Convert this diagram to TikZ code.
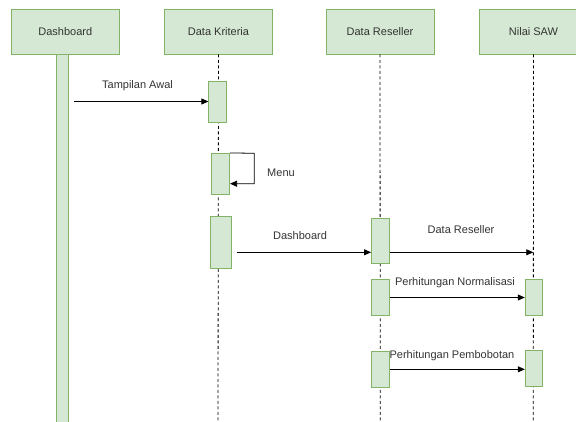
\documentclass[tikz,border=0pt]{standalone}
\usepackage{fontspec}
\setmainfont{Liberation Sans}
\usetikzlibrary{arrows.meta,calc}
\definecolor{boxfill}{HTML}{D5E8D4}
\definecolor{boxline}{HTML}{82B366}
\definecolor{txt}{HTML}{333333}
\tikzset{
  head/.style={draw=boxline, fill=boxfill, line width=0.9pt, minimum width=108pt, minimum height=45pt, inner sep=0pt, text=txt, font=\fontsize{11}{13}\selectfont},
  act/.style={draw=boxline, fill=boxfill, line width=0.9pt, minimum width=18pt, inner sep=0pt},
  life/.style={line width=0.8pt, dash pattern=on 3pt off 2.5pt},
  msg/.style={line width=0.8pt, -{Triangle[length=7pt,width=6pt]}},
  lbl/.style={text=txt, font=\fontsize{11}{13}\selectfont, inner sep=0pt}
}
\begin{document}
\begin{tikzpicture}[x=1pt,y=-1pt]
	\useasboundingbox (0,0) rectangle (576,421);
	
	%%%%% HEADERS %%%%%
	\node[head] (dash) at (65.3,31.5) {Dashboard};
	\node[head] (krit) at (218.5,31.5) {Data Kriteria};
	\node[head] (resel) at (380,31.5) {Data Reseller};
	\node[head, minimum width=109pt] (saw) at (533.5,31.5) {Nilai SAW};
	
	%%%%% LIFELINES %%%%%
	\coordinate (kend) at (218,421);
	\coordinate (rend) at (380.3,421);
	\coordinate (send) at (533.3,421);
	\draw[life] (krit.south) -- (kend);
	\draw[life] (resel.south) -- (rend);
	\draw[life] (saw.south) -- (send);
	\draw[draw=boxline, fill=boxfill, line width=0.9pt] (56.3,54) rectangle (68.3,430);
	
	%%%%% ACTIVATIONS %%%%%
	\node[act, minimum height=41pt] (k1) at (217.8,101.5) {};
	\node[act, minimum height=40.7pt] (k2) at (220.6,173.7) {};
	\node[act, minimum width=21.7pt, minimum height=52pt] (k3) at (220.8,242.3) {};
	\node[act, minimum height=45pt] (r1) at (380.5,240.8) {};
	\node[act, minimum height=36.4pt] (r2) at (380.3,297.5) {};
	\node[act, minimum height=36pt] (r3) at (380.3,369.3) {};
	\node[act, minimum width=16.7pt, minimum height=36.4pt] (s1) at (533.6,297.5) {};
	\node[act, minimum width=16.7pt, minimum height=36.4pt] (s2) at (533.6,368.5) {};
	
	%%%%% MESSAGES %%%%%
	\coordinate (m1) at (74,101.5);
	\draw[msg] (m1) -- (k1.west);
	\node[lbl] (l1) at (137.5,85.5) {Tampilan Awal};
	
	\coordinate (m2a) at (254.3,153.3);
	\coordinate (m2b) at (254.3,183.7);
	\draw[msg] (k2.north east) -- (m2a) -- (m2b) -- (k2.east |- m2b);
	\node[lbl] (l2) at (281,173) {Menu};
	
	\coordinate (m3) at (236.7,252.3);
	\draw[msg] (m3) -- (r1.west |- m3);
	\node[lbl] (l3) at (300,235.7) {Dashboard};
	
	\draw[msg] (r1.east |- m3) -- (send |- m3);
	\node[lbl] (l4) at (461,230) {Data Reseller};
	
	\draw[msg] (r2.east) -- (s1.west);
	\node[lbl] (l5) at (455,282.5) {Perhitungan Normalisasi};
	
	\draw[msg] (r3.east) -- (s2.west |- r3.east);
	\node[lbl] (l6) at (452,355.7) {Perhitungan Pembobotan};
\end{tikzpicture}
\end{document}
